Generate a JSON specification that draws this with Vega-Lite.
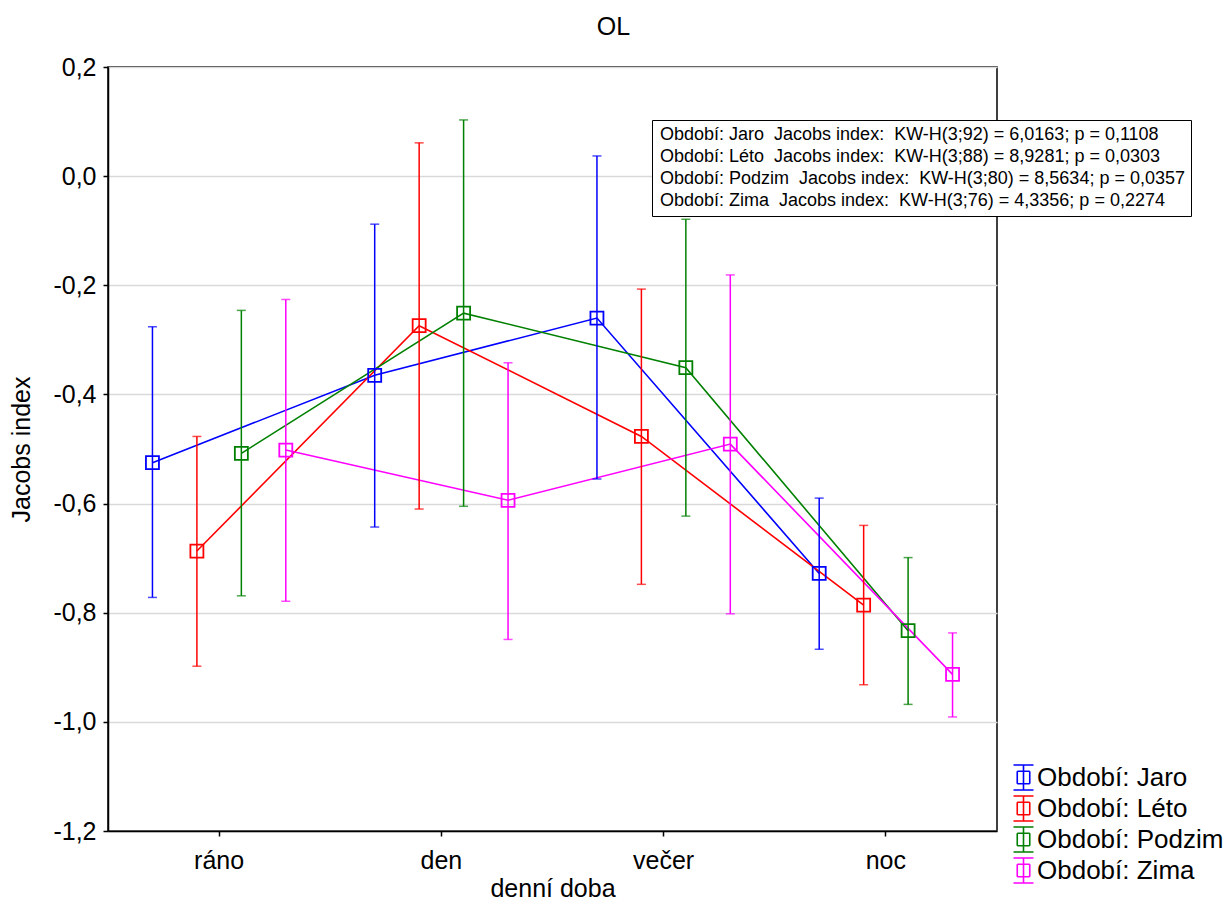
{
  "$schema": "https://vega.github.io/schema/vega-lite/v6.json",
  "width": 889,
  "height": 764,
  "autosize": "none",
  "padding": {"left": 108, "top": 67, "right": 230, "bottom": 82},
  "title": {"text": "OL", "fontSize": 25, "fontWeight": "normal", "dx": 61, "offset": 15, "color": "black"},
  "config": {
    "font": "Liberation Sans",
    "view": {"stroke": "black", "strokeWidth": 1.5},
    "axis": {"domainColor": "black", "domainWidth": 1.5, "tickColor": "black", "tickWidth": 1.5, "labelColor": "black", "titleColor": "black", "labelFontSize": 25, "titleFontSize": 25, "titleFontWeight": "normal"}
  },
  "data": {
    "values": [
      {"doba": "ráno", "obdobi": "Jaro", "mean": -0.525, "lo": -0.772, "hi": -0.276, "kw": "Období: Jaro \u00a0Jacobs index: \u00a0KW-H(3;92) = 6,0163; p = 0,1108"},
      {"doba": "den", "obdobi": "Jaro", "mean": -0.365, "lo": -0.643, "hi": -0.088, "kw": "Období: Jaro \u00a0Jacobs index: \u00a0KW-H(3;92) = 6,0163; p = 0,1108"},
      {"doba": "večer", "obdobi": "Jaro", "mean": -0.260, "lo": -0.555, "hi": 0.037, "kw": "Období: Jaro \u00a0Jacobs index: \u00a0KW-H(3;92) = 6,0163; p = 0,1108"},
      {"doba": "noc", "obdobi": "Jaro", "mean": -0.728, "lo": -0.867, "hi": -0.590, "kw": "Období: Jaro \u00a0Jacobs index: \u00a0KW-H(3;92) = 6,0163; p = 0,1108"},
      {"doba": "ráno", "obdobi": "Léto", "mean": -0.687, "lo": -0.898, "hi": -0.477, "kw": "Období: Léto \u00a0Jacobs index: \u00a0KW-H(3;88) = 8,9281; p = 0,0303"},
      {"doba": "den", "obdobi": "Léto", "mean": -0.274, "lo": -0.610, "hi": 0.061, "kw": "Období: Léto \u00a0Jacobs index: \u00a0KW-H(3;88) = 8,9281; p = 0,0303"},
      {"doba": "večer", "obdobi": "Léto", "mean": -0.477, "lo": -0.748, "hi": -0.207, "kw": "Období: Léto \u00a0Jacobs index: \u00a0KW-H(3;88) = 8,9281; p = 0,0303"},
      {"doba": "noc", "obdobi": "Léto", "mean": -0.786, "lo": -0.932, "hi": -0.640, "kw": "Období: Léto \u00a0Jacobs index: \u00a0KW-H(3;88) = 8,9281; p = 0,0303"},
      {"doba": "ráno", "obdobi": "Podzim", "mean": -0.508, "lo": -0.769, "hi": -0.246, "kw": "Období: Podzim \u00a0Jacobs index: \u00a0KW-H(3;80) = 8,5634; p = 0,0357"},
      {"doba": "den", "obdobi": "Podzim", "mean": -0.251, "lo": -0.605, "hi": 0.103, "kw": "Období: Podzim \u00a0Jacobs index: \u00a0KW-H(3;80) = 8,5634; p = 0,0357"},
      {"doba": "večer", "obdobi": "Podzim", "mean": -0.351, "lo": -0.623, "hi": -0.079, "kw": "Období: Podzim \u00a0Jacobs index: \u00a0KW-H(3;80) = 8,5634; p = 0,0357"},
      {"doba": "noc", "obdobi": "Podzim", "mean": -0.833, "lo": -0.968, "hi": -0.699, "kw": "Období: Podzim \u00a0Jacobs index: \u00a0KW-H(3;80) = 8,5634; p = 0,0357"},
      {"doba": "ráno", "obdobi": "Zima", "mean": -0.502, "lo": -0.779, "hi": -0.226, "kw": "Období: Zima \u00a0Jacobs index: \u00a0KW-H(3;76) = 4,3356; p = 0,2274"},
      {"doba": "den", "obdobi": "Zima", "mean": -0.594, "lo": -0.849, "hi": -0.342, "kw": "Období: Zima \u00a0Jacobs index: \u00a0KW-H(3;76) = 4,3356; p = 0,2274"},
      {"doba": "večer", "obdobi": "Zima", "mean": -0.491, "lo": -0.802, "hi": -0.181, "kw": "Období: Zima \u00a0Jacobs index: \u00a0KW-H(3;76) = 4,3356; p = 0,2274"},
      {"doba": "noc", "obdobi": "Zima", "mean": -0.913, "lo": -0.991, "hi": -0.837, "kw": "Období: Zima \u00a0Jacobs index: \u00a0KW-H(3;76) = 4,3356; p = 0,2274"}
    ]
  },
  "encoding": {
    "x": {
      "field": "doba", "type": "nominal", "sort": ["ráno", "den", "večer", "noc"],
      "scale": {"paddingInner": 0, "paddingOuter": 0},
      "axis": {"title": "denní doba", "labelAngle": 0, "tickSize": 5, "labelPadding": 12, "titlePadding": 3, "grid": false}
    },
    "xOffset": {"field": "obdobi", "type": "nominal", "sort": ["Jaro", "Léto", "Podzim", "Zima"], "scale": {"paddingInner": 0, "paddingOuter": 0.5}},
    "color": {
      "field": "obdobi", "type": "nominal", "sort": ["Jaro", "Léto", "Podzim", "Zima"],
      "scale": {"domain": ["Jaro", "Léto", "Podzim", "Zima"], "range": ["#0000ff", "#ff0000", "#008000", "#ff00ff"]},
      "legend": {
        "orient": "none", "legendX": 902, "legendY": 697, "title": null, "padding": 0,
        "labelFontSize": 26, "labelColor": "black", "labelOffset": 0, "rowPadding": -2, "labelLimit": 400,
        "labelExpr": "'Období: ' + datum.label",
        "symbolType": "M-0.5,-0.5H0.5 M0.5,-0.5V0.5 M0.5,0.5H-0.5 M-0.5,0.5V-0.5 M0,-1V1 M-0.8,-1H0.8 M-0.8,1H0.8",
        "symbolSize": 625, "symbolStrokeWidth": 1.6, "symbolOpacity": 1
      }
    }
  },
  "layer": [
    {
      "mark": {"type": "line", "strokeWidth": 1.6},
      "encoding": {
        "y": {
          "field": "mean", "type": "quantitative",
          "scale": {"domain": [-1.2, 0.2], "nice": false, "zero": false},
          "axis": {
            "title": "Jacobs index", "values": [-1.2, -1, -0.8, -0.6, -0.4, -0.2, 0, 0.2],
            "labelExpr": "replace(replace(format(datum.value, '.1f'), '.', ','), '\u2212', '-')",
            "tickSize": 5, "labelPadding": 7, "titlePadding": 18,
            "grid": true, "gridColor": "#d9d9d9", "gridWidth": 1.5
          }
        }
      }
    },
    {
      "mark": {"type": "rule", "strokeWidth": 1.5},
      "encoding": {"y": {"field": "lo", "type": "quantitative"}, "y2": {"field": "hi"}}
    },
    {
      "mark": {"type": "tick", "size": 9, "thickness": 1.5},
      "encoding": {"y": {"field": "lo", "type": "quantitative"}}
    },
    {
      "mark": {"type": "tick", "size": 9, "thickness": 1.5},
      "encoding": {"y": {"field": "hi", "type": "quantitative"}}
    },
    {
      "mark": {"type": "point", "filled": false, "size": 169, "strokeWidth": 1.8, "opacity": 1},
      "encoding": {
        "y": {"field": "mean", "type": "quantitative"},
        "shape": {
          "field": "kw", "type": "nominal",
          "scale": {"range": ["square", "square", "square", "square"]},
          "legend": {
            "orient": "none", "legendX": 544, "legendY": 53, "title": null,
            "padding": 6, "strokeColor": "black", "fillColor": "white",
            "labelFontSize": 18, "labelColor": "black", "labelOffset": -16, "rowPadding": 4,
            "symbolSize": 0, "symbolOpacity": 0, "labelLimit": 1000,
            "encode": {"legend": {"update": {"strokeWidth": {"value": 2}}}}
          }
        }
      }
    }
  ]
}
